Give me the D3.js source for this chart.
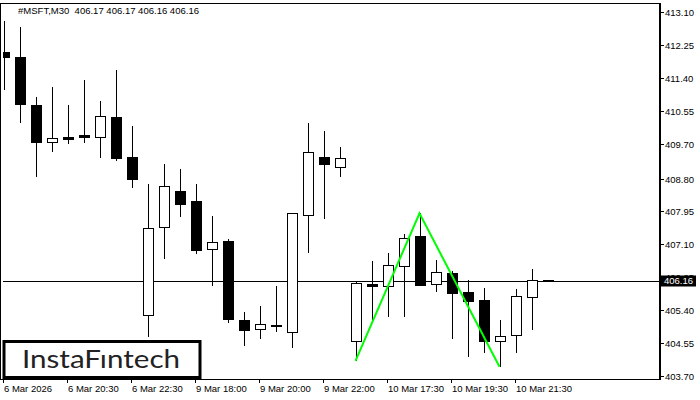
<!DOCTYPE html>
<html>
<head>
<meta charset="utf-8">
<script src="https://cdn.jsdelivr.net/npm/d3@7/dist/d3.min.js"></script>
<style>
html,body{margin:0;padding:0;background:#fff;}
svg{display:block;}
text{font-family:"Liberation Sans",Arial,sans-serif;}
</style>
</head>
<body>
<svg id="chart" width="700" height="400"></svg>
<script>
// ---- data ----
const opens  = [412.07,411.93,410.69,409.75,409.88,409.92,409.88,410.39,409.36,405.27,407.54,408.48,408.22,406.97,407.19,405.14,404.91,405.00,404.83,407.85,409.35,409.09,404.60,406.08,406.02,406.53,407.31,406.07,406.36,405.87,405.66,404.60,404.75,405.73,406.17];
const highs  = [412.87,412.72,410.90,411.17,410.70,411.34,410.80,411.60,410.16,408.66,409.17,409.05,408.66,407.83,407.24,405.35,405.51,406.02,407.90,410.23,410.03,409.61,406.15,406.67,406.87,407.37,407.90,406.69,406.40,406.17,405.96,405.15,405.95,406.46,406.17];
const lows   = [411.09,410.23,408.84,409.48,409.69,409.72,409.34,409.26,408.55,404.70,406.73,407.81,406.85,406.02,405.08,404.48,404.66,404.84,404.43,406.88,407.76,408.85,404.09,405.10,405.23,405.23,406.02,405.88,404.65,404.18,404.30,403.94,404.30,404.90,406.16];
const closes = [411.94,410.72,409.75,409.85,409.82,409.87,410.41,409.34,408.78,407.51,408.61,408.15,406.95,407.16,405.18,404.90,405.04,405.01,407.90,409.48,409.17,409.32,406.09,406.02,406.56,407.26,406.06,406.38,405.85,405.64,404.61,404.73,405.76,406.17,406.16];
const xTickIdx    = [0,4,8,12,16,20,24,28,32];
const xTickLabels = ["6 Mar 2026","6 Mar 20:30","6 Mar 22:30","9 Mar 18:00","9 Mar 20:00","9 Mar 22:00","10 Mar 17:30","10 Mar 19:30","10 Mar 21:30"];
const yTicks = [413.10,412.25,411.40,410.55,409.70,408.80,407.95,407.10,406.25,405.40,404.55,403.70];
const patternIdx    = [22,26,31];
const patternPrices = [404.09,407.90,403.94];
const currentPrice = 406.16;
const titleText = "#MSFT,M30  406.17 406.17 406.16 406.16";

// ---- layout ----
const svg = d3.select("#chart");
const plotL = 0, plotR = 660, plotT = 3, plotB = 379;
const x = d3.scaleLinear().domain([0,1]).range([3.5,19.5]);
const y = d3.scaleLinear().domain([403.70,413.10]).range([376,12]);
const bodyW = 10;

svg.append("defs").append("clipPath").attr("id","clip")
  .append("rect").attr("x",3).attr("y",plotT).attr("width",plotR-3).attr("height",plotB-plotT);

// frame
svg.append("rect").attr("x",0.5).attr("y",plotT+0.5).attr("width",plotR-0.5).attr("height",plotB-plotT)
  .attr("fill","none").attr("stroke","#000").attr("stroke-width",1).attr("shape-rendering","crispEdges");

const g = svg.append("g").attr("clip-path","url(#clip)");

// price line
g.append("line").attr("x1",0).attr("x2",plotR).attr("y1",Math.round(y(currentPrice))+0.5).attr("y2",Math.round(y(currentPrice))+0.5)
  .attr("stroke","#000").attr("stroke-width",1).attr("shape-rendering","crispEdges");

const data = opens.map((o,i)=>({i,o,h:highs[i],l:lows[i],c:closes[i]}));
const candles = g.selectAll("g.c").data(data).join("g").attr("class","c");
candles.append("line")
  .attr("x1",d=>Math.round(x(d.i))+0.5).attr("x2",d=>Math.round(x(d.i))+0.5)
  .attr("y1",d=>Math.round(y(d.h))).attr("y2",d=>Math.round(y(d.l)))
  .attr("stroke","#000").attr("stroke-width",1).attr("shape-rendering","crispEdges");
candles.append("rect")
  .attr("x",d=>Math.round(x(d.i))-bodyW/2+0.5)
  .attr("y",d=>Math.round(y(Math.max(d.o,d.c)))+0.5)
  .attr("width",bodyW)
  .attr("height",d=>Math.max(0.01,Math.round(y(Math.min(d.o,d.c)))-Math.round(y(Math.max(d.o,d.c)))))
  .attr("fill",d=>d.c>d.o?"#fff":"#000")
  .attr("stroke","#000").attr("stroke-width",1).attr("shape-rendering","crispEdges");

// pattern line
g.append("path")
  .datum(patternIdx.map((d,k)=>[d,patternPrices[k]]))
  .attr("d",d3.line().x(d=>x(d[0])).y(d=>y(d[1])))
  .attr("fill","none").attr("stroke","#00ff00").attr("stroke-width",2);

// right axis
svg.append("line").attr("x1",plotR-0.5).attr("x2",plotR-0.5).attr("y1",plotT).attr("y2",plotB)
  .attr("stroke","#000").attr("shape-rendering","crispEdges");
const ya = svg.append("g");
yTicks.forEach(v=>{
  const yy = Math.round(y(v))+0.5;
  ya.append("line").attr("x1",plotR).attr("x2",plotR+4).attr("y1",yy).attr("y2",yy)
    .attr("stroke","#000").attr("shape-rendering","crispEdges");
  ya.append("text").attr("x",plotR+5).attr("y",yy).attr("dy","0.35em")
    .attr("font-size",9.5).attr("fill","#000").text(v.toFixed(2));
});
// current price label
const cy = y(currentPrice);
svg.append("rect").attr("x",661).attr("y",Math.round(cy)-5.5).attr("width",35).attr("height",11).attr("fill","#000");
svg.append("text").attr("x",664).attr("y",cy).attr("dy","0.36em").attr("font-size",9.5).attr("fill","#fff").text(currentPrice.toFixed(2));

// bottom axis
svg.append("line").attr("x1",0).attr("x2",plotR).attr("y1",plotB+0.5).attr("y2",plotB+0.5)
  .attr("stroke","#000").attr("shape-rendering","crispEdges");
xTickIdx.forEach((idx,k)=>{
  const xx = Math.round(x(idx))-0.5;
  svg.append("line").attr("x1",xx).attr("x2",xx).attr("y1",plotB).attr("y2",plotB+4)
    .attr("stroke","#000").attr("shape-rendering","crispEdges");
  svg.append("text").attr("x",xx+0.5).attr("y",392).attr("font-size",9.5).attr("fill","#000").text(xTickLabels[k]);
});

// title
svg.append("text").attr("x",18).attr("y",14).attr("font-size",9.5).attr("fill","#000")
  .attr("textLength",181).attr("lengthAdjust","spacingAndGlyphs").style("white-space","pre").text(titleText);

// logo
svg.append("rect").attr("x",4).attr("y",341.5).attr("width",196).attr("height",36)
  .attr("fill","#fff").attr("stroke","#000").attr("stroke-width",3);
svg.append("text").attr("x",22).attr("y",368).attr("font-size",25)
  .style("font-family","Lato, 'Open Sans', sans-serif").attr("fill","#222")
  .attr("textLength",158).attr("lengthAdjust","spacingAndGlyphs").text("InstaFıntech");
</script>
</body>
</html>
